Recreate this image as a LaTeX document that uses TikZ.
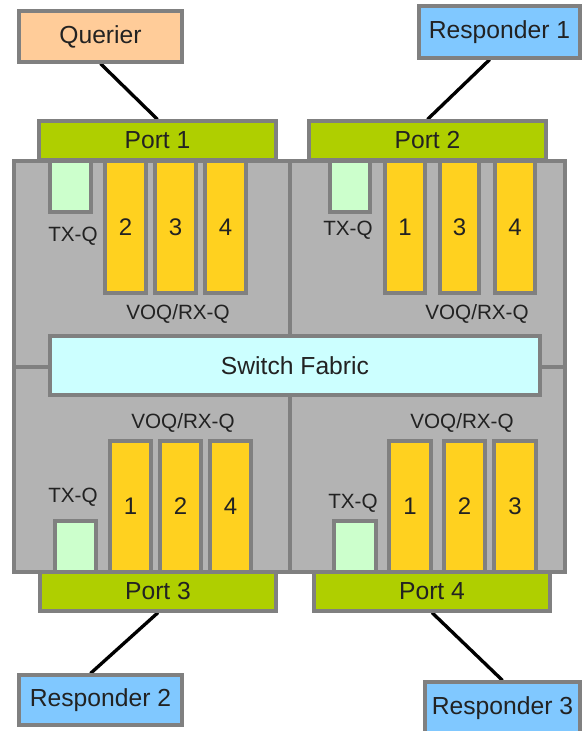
\documentclass[tikz,border=0pt]{standalone}
\usepackage{fontspec}
\setmainfont{Liberation Sans}
\usetikzlibrary{calc,backgrounds}
\definecolor{bordergray}{HTML}{808080}
\definecolor{bodygray}{HTML}{B3B3B3}
\definecolor{peach}{HTML}{FFCC99}
\definecolor{respblue}{HTML}{80C8FF}
\definecolor{portgreen}{HTML}{AFCF00}
\definecolor{txgreen}{HTML}{CCFFCC}
\definecolor{qyellow}{HTML}{FFD11F}
\definecolor{fabric}{HTML}{CCFFFF}
\definecolor{txtcol}{HTML}{222222}
\newcommand\mybox[7]{\node[#6, minimum width={(#4-#2)*0.75pt}, minimum height={(#5-#3)*0.75pt}] (#1) at ({(#2+#4)/2},{(#3+#5)/2}) {#7};}
\tikzset{
  base/.style={draw=bordergray, line width=2.4pt, inner sep=0pt, rectangle, text=txtcol},
  bigfont/.style={font=\fontsize{18.5}{20}\selectfont},
  smallfont/.style={font=\fontsize{15.5}{18}\selectfont},
  numfont/.style={font=\fontsize{18}{20}\selectfont},
  endpoint/.style={base, bigfont},
  quad/.style={base, fill=bodygray},
  port/.style={base, bigfont, fill=portgreen},
  txq/.style={base, fill=txgreen},
  voq/.style={base, numfont, fill=qyellow},
  lbl/.style={smallfont, text=txtcol, inner sep=0pt},
  wire/.style={line width=2.5pt, black}
}
\begin{document}
\begin{tikzpicture}[x=0.75pt, y=-0.75pt]
\useasboundingbox (0,0) rectangle (585,731);
% endpoints
\mybox{q}{19}{11}{182}{62}{endpoint, fill=peach}{Querier}
\mybox{r1}{419}{6}{580}{58}{endpoint, fill=respblue}{Responder 1}
\mybox{r2}{19}{675}{182}{725}{endpoint, fill=respblue}{Responder 2}
\mybox{r3}{425}{682}{580}{734}{endpoint, fill=respblue}{Responder 3}
% quadrants
\mybox{qa}{14}{161}{290}{367}{quad}{}
\mybox{qb}{290}{161}{565}{367}{quad}{}
\mybox{qc}{14}{367}{290}{572}{quad}{}
\mybox{qd}{290}{367}{565}{572}{quad}{}
% top-left queues
\mybox{ta}{50}{161}{91}{212}{txq}{}
\mybox{a2}{105}{161}{146}{293}{voq}{2}
\mybox{a3}{155}{161}{196}{293}{voq}{3}
\mybox{a4}{205}{161}{246}{293}{voq}{4}
\node[lbl] (tla) at (73,236) {TX-Q};
\node[lbl] (vla) at (178,314) {VOQ/RX-Q};
% top-right queues
\mybox{tb}{330}{161}{370}{212}{txq}{}
\mybox{b1}{385}{161}{425}{293}{voq}{1}
\mybox{b3}{440}{161}{479}{293}{voq}{3}
\mybox{b4}{495}{161}{535}{293}{voq}{4}
\node[lbl] (tlb) at (348,230) {TX-Q};
\node[lbl] (vlb) at (477,314) {VOQ/RX-Q};
% bottom-left queues
\mybox{tc}{55}{521}{96}{572}{txq}{}
\mybox{c1}{110}{441}{151}{572}{voq}{1}
\mybox{c2}{160}{441}{201}{572}{voq}{2}
\mybox{c4}{210}{441}{251}{572}{voq}{4}
\node[lbl] (tlc) at (73,497) {TX-Q};
\node[lbl] (vlc) at (183,423) {VOQ/RX-Q};
% bottom-right queues
\mybox{td}{334}{521}{376}{572}{txq}{}
\mybox{d1}{389}{441}{431}{572}{voq}{1}
\mybox{d2}{444}{441}{485}{572}{voq}{2}
\mybox{d3}{494}{441}{536}{572}{voq}{3}
\node[lbl] (tld) at (353,503) {TX-Q};
\node[lbl] (vld) at (462,423) {VOQ/RX-Q};
% switch fabric
\mybox{sf}{50}{336}{540}{395}{base, bigfont, fill=fabric}{Switch Fabric}
% ports
\mybox{p1}{39}{121}{276}{160}{port}{Port 1}
\mybox{p2}{309}{121}{546}{160}{port}{Port 2}
\mybox{p3}{40}{572}{276}{611}{port}{Port 3}
\mybox{p4}{314}{572}{550}{611}{port}{Port 4}
% connectors
\begin{pgfonlayer}{background}
\draw[wire] (q.south) -- (p1.north);
\draw[wire] ($(r1.south west)!0.44!(r1.south east)$) -- (p2.north);
\draw[wire] (p3.south) -- ($(r2.north west)!0.44!(r2.north east)$);
\draw[wire] (p4.south) -- (r3.north);
\end{pgfonlayer}
\end{tikzpicture}
\end{document}
